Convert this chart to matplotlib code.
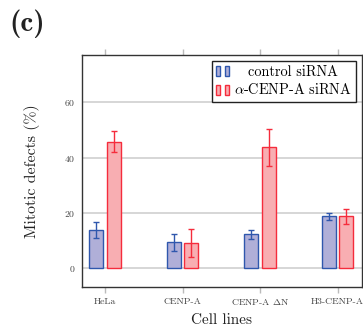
import numpy as np
import matplotlib
matplotlib.use("Agg")
import matplotlib.pyplot as plt
from matplotlib.patches import Rectangle
from matplotlib.legend_handler import HandlerBase

# data
cell_lines = ["HeLa", "CENP-A", "CENP-A $\\Delta$N", "H3-CENP-A"]
control = [13.8, 9.3, 12.2, 18.8]
control_err = [3.0, 3.0, 1.6, 1.2]
cenpa = [45.8, 9.0, 43.7, 18.8]
cenpa_err = [3.8, 5.0, 6.8, 2.7]

plt.rcParams["font.family"] = "cmr10"
plt.rcParams["mathtext.fontset"] = "cm"
plt.rcParams["axes.formatter.use_mathtext"] = True

blue_fill, blue_edge = "#b0afd8", "#2f57ad"
red_fill, red_edge = "#f8aeb2", "#f52c3c"


class TwoBars(HandlerBase):
    # pgfplots-like legend image: two small bars
    def create_artists(self, legend, orig, xd, yd, w, h, fs, trans):
        fc, ec = orig.get_facecolor(), orig.get_edgecolor()
        bw = w * 0.3
        arts = []
        for x0 in (0.0, w * 0.6):
            r = Rectangle((x0 - xd, -yd - h * 0.05), bw, h * 1.0,
                          facecolor=fc, edgecolor=ec, lw=1.0, transform=trans)
            arts.append(r)
        return arts


fig = plt.figure(figsize=(3.63, 3.31), dpi=100)
ax = fig.add_axes([0.225, 0.132, 0.7715, 0.702])

x = np.arange(len(cell_lines))
bw = 0.18
off = 0.112
ekw = dict(lw=1.0, capthick=1.0)
ax.bar(x - off, control, bw, color=blue_fill, edgecolor=blue_edge, lw=1.0,
       yerr=control_err, capsize=2.5, error_kw=dict(ecolor=blue_edge, **ekw),
       zorder=3)
ax.bar(x + off, cenpa, bw, color=red_fill, edgecolor=red_edge, lw=1.0,
       yerr=cenpa_err, capsize=2.5, error_kw=dict(ecolor=red_edge, **ekw),
       zorder=3)

ax.set_xlim(-0.3, 3.31)
ax.set_ylim(-6.9, 77.1)
ax.set_xticks(x)
ax.set_xticklabels(cell_lines, fontsize=7, color="#444444")
ax.set_yticks([0, 20, 40, 60])
ax.tick_params(axis="y", length=0, labelsize=7, labelcolor="#444444", pad=4.5)
ax.tick_params(axis="x", direction="out", length=4.3, width=1, color="#bbbbbb",
               top=True, pad=3)
ax.grid(axis="y", color="#cccccc", lw=1.1, zorder=0)
for s in ax.spines.values():
    s.set_color("#333333")
    s.set_linewidth(1.0)

ax.set_xlabel("Cell lines", fontsize=11, color="#222222")
ax.set_ylabel("Mitotic defects (%)", fontsize=11.4, color="#222222")
ax.xaxis.set_label_coords(0.5, -0.112)
ax.yaxis.set_label_coords(-0.149, 0.5)

h1 = Rectangle((0, 0), 1, 1, facecolor=blue_fill, edgecolor=blue_edge)
h2 = Rectangle((0, 0), 1, 1, facecolor=red_fill, edgecolor=red_edge)
leg = ax.legend([h1, h2], ["control siRNA", "$\\alpha$-CENP-A siRNA"],
                handler_map={Rectangle: TwoBars()}, loc="upper right",
                bbox_to_anchor=(0.98, 0.975), fontsize=10.3, fancybox=False,
                framealpha=1, edgecolor="#222222", borderpad=0.3,
                handlelength=1.0, handletextpad=0.25, labelspacing=0.25,
                borderaxespad=0)
leg.get_frame().set_linewidth(1.0)

# centre the shorter legend text in its column, like pgfplots does
fig.canvas.draw()
r = fig.canvas.get_renderer()
w0 = leg.texts[0].get_window_extent(r).width
w1 = leg.texts[1].get_window_extent(r).width
leg.texts[0].set_x((w1 - w0) / 2)

fig.text(0.027, 0.972, "(c)", fontsize=21, family="cmb10", color="#222222",
         va="top")

fig.savefig("out.png", dpi=100)
